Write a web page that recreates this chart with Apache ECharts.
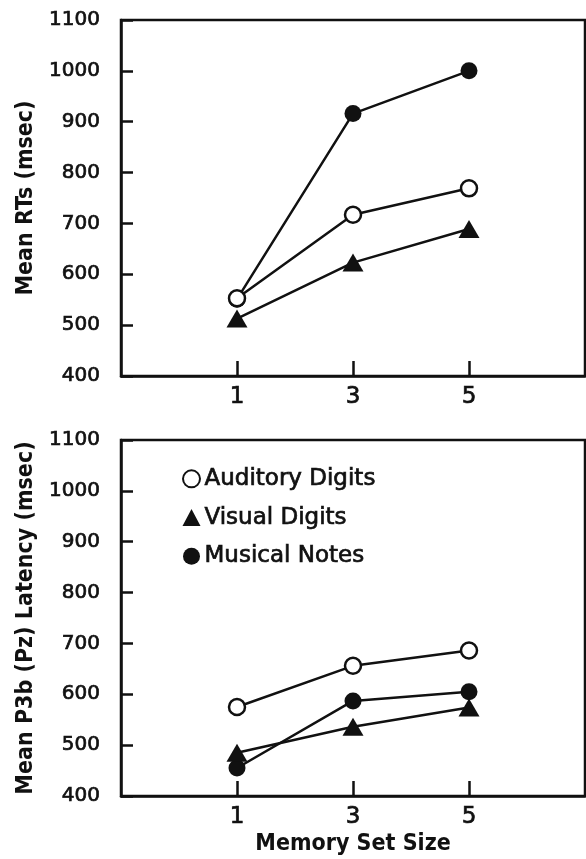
<!DOCTYPE html>
<html>
<head>
<meta charset="utf-8">
<script src="https://cdn.jsdelivr.net/npm/echarts@6/dist/echarts.min.js"></script>
<style>
html,body{margin:0;padding:0;background:#fff;}
#c{width:586px;height:859px;}
</style>
</head>
<body>
<div id="c"></div>
<script>
// ---- data ----
const memorySetSize = [1, 3, 5];
const xTickValues = [1, 3, 5];
const yTickMin = 400, yTickMax = 1100, yTickStep = 100;
const seriesNames = ['Auditory Digits', 'Visual Digits', 'Musical Notes'];
const rtAuditory = [553, 717, 769];
const rtVisual = [513, 623, 689];
const rtMusical = [551, 916, 1000];
const p3Auditory = [575, 656, 686];
const p3Visual = [485, 536, 574];
const p3Musical = [455, 587, 605];
const yTitleTop = 'Mean RTs (msec)';
const yTitleBottom = 'Mean P3b (Pz) Latency (msec)';
const xTitle = 'Memory Set Size';

const chart = echarts.init(document.getElementById('c'), null, {renderer: 'canvas'});
const BLACK = '#111';
const tickFont = 'DejaVu Sans';
const titleFont = 'DejaVu Sans Condensed';
const thicken = {textBorderColor: BLACK, textBorderWidth: 0.7};

function pairs(vals) { return memorySetSize.map((x, i) => [x, vals[i]]); }

function xAxis(gridIndex, showName) {
  return {
    type: 'value', gridIndex, min: -1, max: 7,
    axisLine: {show: true, onZero: false, lineStyle: {color: BLACK, width: 2.5}},
    axisTick: {show: true, inside: true, length: 15, customValues: xTickValues, lineStyle: {color: BLACK, width: 2.5}},
    axisLabel: Object.assign({show: true, customValues: xTickValues, margin: 10, color: BLACK, fontSize: 23, fontFamily: tickFont,
      formatter: v => String(v)}, thicken),
    splitLine: {show: false},
    name: showName ? xTitle : '', nameLocation: 'middle', nameGap: 37,
    nameTextStyle: {color: BLACK, fontSize: 23, fontFamily: titleFont, fontWeight: 'bold'}
  };
}
function yAxis(gridIndex, title) {
  return {
    type: 'value', gridIndex, min: yTickMin, max: yTickMax, interval: yTickStep,
    axisLine: {show: true, onZero: false, lineStyle: {color: BLACK, width: 2.5}},
    axisTick: {show: true, inside: true, length: 12, lineStyle: {color: BLACK, width: 2.5}},
    axisLabel: Object.assign({show: true, margin: 21, color: BLACK, fontSize: 20, fontFamily: tickFont,
      formatter: v => String(v)}, thicken),
    splitLine: {show: false},
    name: title, nameLocation: 'middle', nameGap: 82, nameRotate: 90,
    nameTextStyle: {color: BLACK, fontSize: 23, fontFamily: titleFont, fontWeight: 'bold'}
  };
}
function makeSeries(name, vals, idx, kind) {
  const s = {
    name, type: 'line', xAxisIndex: idx, yAxisIndex: idx, data: pairs(vals),
    lineStyle: {color: BLACK, width: 2.5},
    symbolSize: 17, symbol: 'circle', showSymbol: true,
    itemStyle: {color: BLACK, borderColor: BLACK, borderWidth: 0},
    emphasis: {disabled: true}, animation: false, z: 2
  };
  if (kind === 'open') {
    s.itemStyle = {color: '#fff', borderColor: BLACK, borderWidth: 2.5};
    s.symbolSize = 16;
    s.z = 4;
  } else if (kind === 'tri') {
    s.symbol = 'triangle';
    s.symbolSize = [21, 18];
    s.z = 3;
  }
  return s;
}

const option = {
  backgroundColor: '#fff',
  animation: false,
  grid: [
    {left: 121, right: 1, top: 20, height: 356, show: true, borderColor: BLACK, borderWidth: 2.5, containLabel: false},
    {left: 121, right: 1, top: 440, height: 356, show: true, borderColor: BLACK, borderWidth: 2.5, containLabel: false}
  ],
  xAxis: [xAxis(0, false), xAxis(1, true)],
  yAxis: [yAxis(0, yTitleTop), yAxis(1, yTitleBottom)],
  legend: {
    orient: 'vertical', left: 177, top: 462, itemGap: 15,
    itemWidth: 18, itemHeight: 17,
    selectedMode: false,
    textStyle: Object.assign({color: BLACK, fontSize: 23, fontFamily: tickFont, fontWeight: 'normal', padding: [0, 0, 0, -1]}, thicken),
    data: [
      {name: seriesNames[0], icon: 'circle'},
      {name: seriesNames[1], icon: 'triangle'},
      {name: seriesNames[2], icon: 'circle'}
    ]
  },
  series: [
    makeSeries(seriesNames[2], rtMusical, 0, 'filled'),
    makeSeries(seriesNames[0], rtAuditory, 0, 'open'),
    makeSeries(seriesNames[1], rtVisual, 0, 'tri'),
    makeSeries(seriesNames[2], p3Musical, 1, 'filled'),
    makeSeries(seriesNames[0], p3Auditory, 1, 'open'),
    makeSeries(seriesNames[1], p3Visual, 1, 'tri')
  ]
};
chart.setOption(option);
</script>
</body>
</html>
